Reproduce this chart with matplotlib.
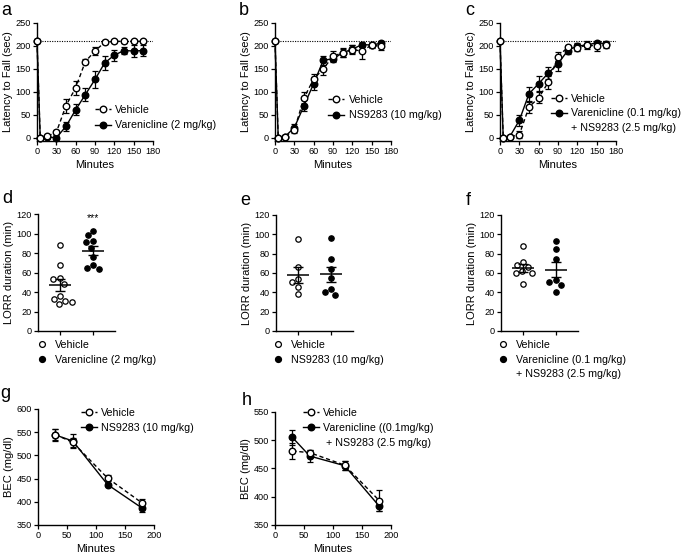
import numpy as np
import matplotlib
matplotlib.use('Agg')
import matplotlib.pyplot as plt
from matplotlib.lines import Line2D

plt.rcParams['font.family'] = ['Liberation Sans', 'DejaVu Sans']

W, H = 685, 555

# ---- data ----
minutes = [0, 5, 15, 30, 45, 60, 75, 90, 105, 120, 135, 150, 165]

a_vehicle = [210, 0, 3, 12, 70, 109, 166, 189, 208, 210, 210, 210, 210]
a_vehicle_sem = [0, 0, 2, 6, 15, 15, 5, 8, 4, 3, 3, 3, 3]
a_varenicline = [210, 0, 2, 0, 25, 61, 94, 127, 163, 180, 190, 189, 190]
a_varenicline_sem = [0, 0, 1, 2, 10, 12, 14, 18, 15, 12, 8, 14, 12]

b_vehicle = [210, 0, 2, 17, 87, 128, 150, 178, 185, 192, 189, 202, 199]
b_vehicle_sem = [0, 0, 1, 6, 13, 10, 14, 10, 10, 10, 18, 6, 8]
b_ns9283 = [210, 0, 2, 22, 70, 118, 169, 172, 185, 193, 203, 202, 206]
b_ns9283_sem = [0, 0, 1, 8, 12, 15, 10, 8, 8, 8, 6, 5, 4]

c_vehicle = [210, 0, 2, 7, 67, 87, 121, 177, 197, 196, 202, 200, 203]
c_vehicle_sem = [0, 0, 1, 8, 12, 12, 14, 10, 5, 8, 8, 10, 8]
c_combo = [210, 0, 2, 38, 96, 118, 141, 161, 190, 200, 202, 207, 205]
c_combo_sem = [0, 0, 1, 12, 15, 16, 14, 16, 8, 6, 5, 4, 4]

d_vehicle = [88, 68, 54, 53, 48, 36, 33, 31, 30, 28]
d_varenicline = [103, 98, 92, 91, 85, 76, 68, 65, 64]
e_vehicle = [95, 66, 54, 51, 46, 38]
e_ns9283 = [96, 75, 64, 55, 43, 40, 37]
f_vehicle = [88, 71, 68, 66, 62, 60, 60, 49]
f_combo = [93, 85, 74, 53, 51, 48, 40]

bec_minutes = [30, 60, 120, 180]
g_vehicle = [545, 528, 451, 397]
g_vehicle_sem = [12, 10, 6, 9]
g_ns9283 = [544, 531, 437, 386]
g_ns9283_sem = [12, 15, 4, 9]
h_vehicle = [481, 478, 456, 393]
h_vehicle_sem = [14, 5, 8, 19]
h_combo = [505, 472, 455, 383]
h_combo_sem = [13, 10, 8, 9]

lbl_vehicle = 'Vehicle'
lbl_var2 = 'Varenicline (2 mg/kg)'
lbl_ns10 = 'NS9283 (10 mg/kg)'
lbl_combo = ['Varenicline (0.1 mg/kg)', '+ NS9283 (2.5 mg/kg)']
lbl_combo_h = ['Varenicline ((0.1mg/kg)', ' + NS9283 (2.5 mg/kg)']

LEG_FS = 7.7
LAB_FS = 8.0
TICK_FS = 6.6

fig = plt.figure(figsize=(W / 100, H / 100), dpi=100)


def axes_px(left, top, right, bottom):
    return fig.add_axes([left / W, 1 - bottom / H, (right - left) / W, (bottom - top) / H])


def style(ax):
    for s in ('top', 'right'):
        ax.spines[s].set_visible(False)
    for s in ('left', 'bottom'):
        ax.spines[s].set_linewidth(1.0)
    ax.tick_params(direction='out', length=3, width=0.9, labelsize=TICK_FS, pad=1.5)


def letter(x, y, s):
    fig.text(x / W, 1 - y / H, s, fontsize=13, va='baseline', ha='left')


def two_lines(ax, x, veh, veh_err, drug, drug_err):
    ax.errorbar(x, drug, yerr=drug_err, fmt='none', ecolor='k', elinewidth=0.9,
                capsize=2.5, capthick=0.9, zorder=2, clip_on=False)
    ax.errorbar(x, veh, yerr=veh_err, fmt='none', ecolor='k', elinewidth=0.9,
                capsize=2.5, capthick=0.9, zorder=2, clip_on=False)
    l2, = ax.plot(x, drug, '-', color='k', lw=1.0, marker='o', ms=4.7, mfc='k', mec='k',
                  zorder=3, clip_on=False)
    l1, = ax.plot(x, veh, ls=(0, (3, 2)), color='k', lw=1.0, marker='o', ms=4.7, mfc='white',
                  mec='k', mew=1.0, zorder=4, clip_on=False)
    return l1, l2


def add_legend(ax, handles, labels, anchor, spacing=0.55):
    ax.legend(handles, labels, loc='upper left', bbox_to_anchor=anchor, frameon=False,
              fontsize=LEG_FS, borderpad=0, borderaxespad=0, handlelength=1.5,
              handletextpad=0.4, labelspacing=spacing)


def latency_panel(box, veh, veh_err, drug, drug_err, labels, anchor, spacing=0.5):
    ax = axes_px(*box)
    style(ax)
    ax.axhline(210, ls=(0, (1, 1.2)), lw=0.8, color='k', zorder=1)
    l1, l2 = two_lines(ax, minutes, veh, veh_err, drug, drug_err)
    ax.set_xlim(0, 180)
    ax.set_ylim(-7, 250)
    ax.set_xticks(range(0, 181, 30))
    ax.set_yticks(range(0, 251, 50))
    ax.set_xlabel('Minutes', fontsize=LAB_FS, labelpad=3)
    ax.set_ylabel('Latency to Fall (sec)', fontsize=LAB_FS, labelpad=2)
    handles = [l1, l2]
    if len(labels) > 2:
        handles.append(Line2D([], [], color='none'))
    add_legend(ax, handles, labels, anchor, spacing=spacing)
    return ax


def swarm_offsets(vals, y_px_per_unit, x_px_per_unit, diam=7.0):
    placed = []
    out = []
    for v in vals:
        y = v * y_px_per_unit
        edges = [0.0]
        for px, py in placed:
            dy = abs(py - y)
            if dy < diam:
                dx = np.sqrt(diam ** 2 - dy ** 2)
                edges += [px - dx, px + dx]
        edges.sort(key=abs)
        best = 0.0
        for c in edges:
            if all(np.hypot(c - px, y - py) >= diam - 1e-6 for px, py in placed):
                best = c
                break
        placed.append((best, y))
        out.append(best / x_px_per_unit)
    return np.array(out)


def lorr_panel(box, veh, drug, labels, anchor, stars=False):
    ax = axes_px(*box)
    style(ax)
    xr = (-0.667, 1.667)
    xpx = (box[2] - box[0]) / (xr[1] - xr[0])
    ypx = (box[3] - box[1]) / 120
    for i, (vals, face) in enumerate([(veh, 'white'), (drug, 'k')]):
        vals = np.array(vals, dtype=float)
        off = swarm_offsets(vals, ypx, xpx)
        ax.scatter(i + off, vals, s=15, facecolor=face, edgecolor='k', linewidth=0.9, zorder=3)
        m = vals.mean()
        sem = vals.std(ddof=1) / np.sqrt(len(vals))
        ax.hlines(m, i - 0.32, i + 0.32, color='k', lw=1.1, zorder=4)
        ax.vlines(i, m - sem, m + sem, color='k', lw=1.0, zorder=4)
        ax.hlines([m - sem, m + sem], i - 0.16, i + 0.16, color='k', lw=1.0, zorder=4)
    if stars:
        ax.text(1, 111, '***', ha='center', va='bottom', fontsize=7.5)
    ax.set_xlim(*xr)
    ax.set_ylim(0, 120)
    ax.set_xticks([0, 1])
    ax.set_xticklabels([])
    ax.set_yticks(range(0, 121, 20))
    ax.set_ylabel('LORR duration (min)', fontsize=LAB_FS, labelpad=2)
    hv = Line2D([], [], ls='none', marker='o', ms=4.2, mfc='white', mec='k', mew=0.9)
    hd = Line2D([], [], ls='none', marker='o', ms=4.2, mfc='k', mec='k')
    handles = [hv, hd]
    if len(labels) > 2:
        handles.append(Line2D([], [], color='none'))
    ax.legend(handles, labels, loc='upper left', bbox_to_anchor=anchor, frameon=False,
              fontsize=LEG_FS, borderpad=0, borderaxespad=0, handlelength=0.8,
              handletextpad=0.8, labelspacing=0.45)
    return ax


def bec_panel(box, veh, veh_err, drug, drug_err, ylim, labels, anchor):
    ax = axes_px(*box)
    style(ax)
    l1, l2 = two_lines(ax, bec_minutes, veh, veh_err, drug, drug_err)
    ax.set_xlim(0, 200)
    ax.set_ylim(*ylim)
    ax.set_xticks(range(0, 201, 50))
    ax.set_yticks(range(ylim[0], ylim[1] + 1, 50))
    ax.set_xlabel('Minutes', fontsize=LAB_FS, labelpad=3)
    ax.set_ylabel('BEC (mg/dl)', fontsize=LAB_FS, labelpad=2)
    handles = [l1, l2]
    if len(labels) > 2:
        handles.append(Line2D([], [], color='none'))
    add_legend(ax, handles, labels, anchor, spacing=0.45)
    return ax


# ---- top row ----
latency_panel((37, 23, 153, 141), a_vehicle, a_vehicle_sem, a_varenicline, a_varenicline_sem,
              [lbl_vehicle, lbl_var2], (0.50, 0.305))
latency_panel((275, 23, 391, 141), b_vehicle, b_vehicle_sem, b_ns9283, b_ns9283_sem,
              [lbl_vehicle, lbl_ns10], (0.46, 0.39))
latency_panel((500, 23, 616, 141), c_vehicle, c_vehicle_sem, c_combo, c_combo_sem,
              [lbl_vehicle] + lbl_combo, (0.44, 0.40), spacing=0.42)

# ---- middle row ----
lorr_panel((38, 214, 115, 331), d_vehicle, d_varenicline, [lbl_vehicle, lbl_var2],
           (0.0, -0.075), stars=True)
lorr_panel((276, 215, 353, 331), e_vehicle, e_ns9283, [lbl_vehicle, lbl_ns10], (-0.03, -0.075))
lorr_panel((501, 215, 578, 331), f_vehicle, f_combo, [lbl_vehicle] + lbl_combo, (-0.03, -0.075))

# ---- bottom row ----
bec_panel((38, 409, 154, 525), g_vehicle, g_vehicle_sem, g_ns9283, g_ns9283_sem, (350, 600),
          [lbl_vehicle, lbl_ns10], (0.37, 1.01))
bec_panel((275, 412, 391, 525), h_vehicle, h_vehicle_sem, h_combo, h_combo_sem, (350, 550),
          [lbl_vehicle] + lbl_combo_h, (0.24, 1.035))

letter(1, 15, 'a')
letter(239, 15, 'b')
letter(465, 15, 'c')
letter(2, 203, 'd')
letter(240, 205, 'e')
letter(466, 205, 'f')
letter(0, 398, 'g')
letter(242, 405, 'h')

fig.savefig('out.png', dpi=100)
